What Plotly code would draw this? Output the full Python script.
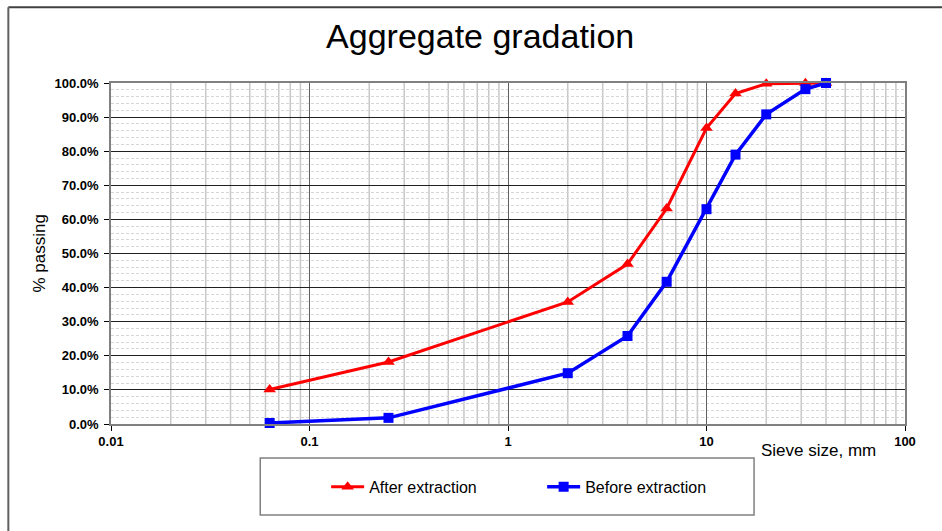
import plotly.graph_objects as go

# sieve sizes, mm
sieve_mm = [0.063, 0.25, 2, 4, 6.3, 10, 14, 20, 31.5, 40]
# % passing
after_extraction = [10.1, 18.2, 35.8, 46.9, 63.2, 86.8, 96.9, 99.8, 99.9, 100.0]
before_extraction = [0.3, 1.8, 14.9, 25.8, 41.7, 63.0, 79.0, 90.8, 98.2, 100.0]

x_ticks = [0.01, 0.1, 1, 10, 100]
x_tick_labels = ['0.01', '0.1', '1', '10', '100']

FONT = 'Liberation Sans, Arial, sans-serif'

# plot area in pixels, used to place paper-space decorations
L, R, T, B = 110.7, 905, 82.7, 424
W, H = 942, 531


def px_x(p):
    return (p - L) / (R - L)


def px_y(p):
    return (B - p) / (B - T)


minor_x = [m * 10 ** e for e in range(-2, 2) for m in range(2, 10)]

fig = go.Figure()
fig.add_trace(go.Scatter(x=sieve_mm, y=after_extraction, name='After extraction',
                         mode='lines+markers', cliponaxis=False,
                         line=dict(color='#ff0000', width=3),
                         marker=dict(symbol='triangle-up', size=11, color='#ff0000')))
fig.add_trace(go.Scatter(x=sieve_mm, y=before_extraction, name='Before extraction',
                         mode='lines+markers', cliponaxis=False,
                         line=dict(color='#0000ff', width=3.5),
                         marker=dict(symbol='square', size=10, color='#0000ff')))

fig.update_layout(
    width=W, height=H,
    margin=dict(l=L, r=W - R, t=T, b=H - B),
    paper_bgcolor='white', plot_bgcolor='white',
    font=dict(family=FONT, color='black'),
    title=dict(text='Aggregate gradation', x=px_x(480), xref='paper', xanchor='center',
               y=1 - 36 / H, yanchor='middle', font=dict(size=34, color='black')),
    showlegend=True,
    legend=dict(orientation='h', x=px_x(542), xanchor='center', y=px_y(487), yanchor='middle',
                font=dict(size=16), bgcolor='rgba(0,0,0,0)', itemwidth=33, entrywidth=168),
    xaxis=dict(type='log', range=[-2, 2], tickvals=x_ticks, ticktext=x_tick_labels,
               tickfont=dict(size=13, weight='bold'), ticks='outside', ticklen=5, tickcolor='black',
               showgrid=True, gridcolor='#606060', gridwidth=1,
               showline=True, linecolor='#808080', linewidth=1.5, mirror=True, zeroline=False),
    yaxis=dict(range=[0, 100], dtick=10, tickformat='.1f', ticksuffix='%',
               tickfont=dict(size=13, weight='bold'), ticks='outside', ticklen=5, tickcolor='black',
               ticklabelstandoff=3,
               showgrid=True, gridcolor='#202020', gridwidth=1,
               showline=True, linecolor='#808080', linewidth=1.5, mirror=True, zeroline=False,
               minor=dict(dtick=2, showgrid=True, gridcolor='#d6d6d6', griddash='3px,2px', ticks='')),
)

# light vertical grid at 2..9 of each decade
for v in minor_x:
    fig.add_shape(type='line', xref='x', yref='paper', x0=v, x1=v, y0=0, y1=1,
                  layer='below', line=dict(color='#c8c8c8', width=1.5))

# x axis title placed at right, y axis title on the left
fig.add_annotation(text='Sieve size, mm', xref='paper', yref='paper', x=px_x(878), y=px_y(451),
                   xanchor='right', yanchor='middle', showarrow=False, font=dict(size=17))
fig.add_annotation(text='% passing', xref='paper', yref='paper', x=px_x(39), y=px_y(253),
                   xanchor='center', yanchor='middle', textangle=-90, showarrow=False,
                   font=dict(size=17))

# legend box and outer chart frame
fig.add_shape(type='rect', xref='paper', yref='paper', x0=px_x(260), x1=px_x(754),
              y0=px_y(515), y1=px_y(458), line=dict(color='#808080', width=1.5))
fig.add_shape(type='line', xref='paper', yref='paper', x0=px_x(8), x1=px_x(942),
              y0=px_y(7), y1=px_y(7), line=dict(color='#404040', width=2))
fig.add_shape(type='line', xref='paper', yref='paper', x0=px_x(8), x1=px_x(8),
              y0=px_y(7), y1=px_y(531), line=dict(color='#606060', width=2))

fig.write_html('out.html', config={'displayModeBar': False},
               post_script="document.body.style.margin='0';")
